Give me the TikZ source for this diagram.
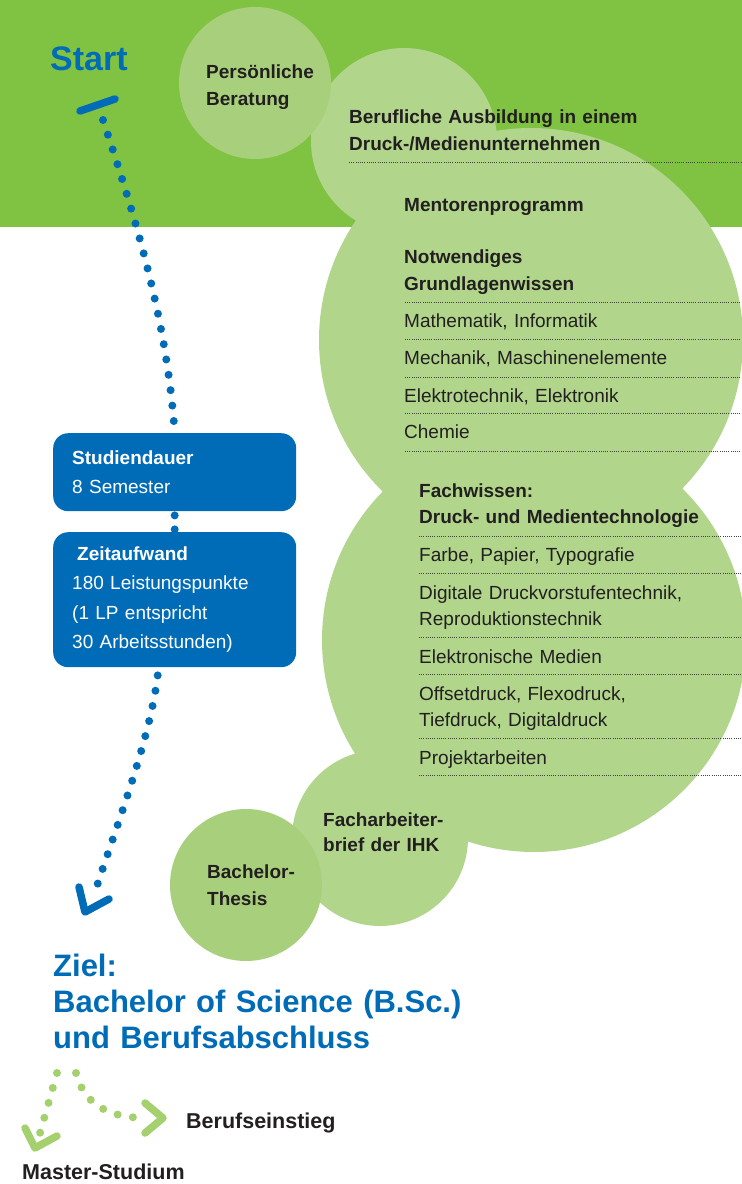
\documentclass[tikz,border=0pt]{standalone}
\usepackage{fontspec}
\setmainfont{Liberation Sans}
\usetikzlibrary{calc,positioning}

\definecolor{bandgruen}{HTML}{80C242}
\definecolor{blasengruen}{HTML}{B1D68B}
\definecolor{kreisgruen}{HTML}{A8D07C}
\definecolor{pfeilgruen}{HTML}{A4D06E}
\definecolor{hsblau}{HTML}{006CB7}
\definecolor{schrift}{HTML}{231F20}

\begin{document}
\begin{tikzpicture}[x=1pt,y=-1pt,
  titel/.style = {anchor=base west, inner sep=0, text=schrift, text width=330pt,
    font=\bfseries\fontsize{19}{27}\selectfont, align=left},
  punkt/.style = {anchor=base west, inner sep=0, text=schrift, text width=330pt,
    font=\fontsize{19}{26}\selectfont, align=left},
  blaubox/.style = {anchor=north west, fill=hsblau, rounded corners=15pt,
    text=white, inner xsep=19pt, text width=205pt, minimum height=78pt,
    font=\fontsize{19}{29.5}\selectfont, align=left},
  trenn/.style = {schrift!85, line width=0.8pt, dash pattern=on 0.8pt off 1.4pt},
  blaupunkte/.style = {hsblau, line width=8pt, line cap=round,
    dash pattern=on 0pt off 15.5pt},
  gruenpunkte/.style = {pfeilgruen, line width=8pt, line cap=round,
    dash pattern=on 0pt off 15.5pt},
  spitze/.style = {line width=7.5pt, line cap=round, line join=round}]

  \useasboundingbox (0,0) rectangle (742,1184);
  \fill[bandgruen] (0,0) rectangle (742,227);

  % Blasen
  \fill[blasengruen] (531,340) circle[radius=212pt] (534,640) circle[radius=212pt]
    (404,141) circle[radius=93pt] (380,838) circle[radius=88pt];
  \fill[kreisgruen] (255,83) circle[radius=76pt] (246,885) circle[radius=76pt];

  % Trennlinien
  \draw[trenn] (349,162) -- (742,162);
  \foreach \y in {302,339,377,413,451}
    \draw[trenn] (405,\y) -- (742,\y);
  \foreach \y in {536,573,637,674,738,775}
    \draw[trenn] (419,\y) -- (742,\y);

  \node[anchor=base west, inner sep=0, text=hsblau,
    font=\bfseries\fontsize{34}{36}\selectfont] (start) at (50,70) {Start};
  \node[titel] (beratung) at (206,78) {Persönliche\\Beratung};
  \node[titel] (ausbildung) at (349,123) {Berufliche Ausbildung in einem\\Druck-/Medienunternehmen};
  \node[titel] (mentoren) at (404,211) {Mentorenprogramm};
  \node[titel] (grundlagen) at (404,263) {Notwendiges\\Grundlagenwissen};
  \node[punkt] (mathe) at (404,327) {Mathematik, Informatik};
  \node[punkt] (mechanik) at (404,364) {Mechanik, Maschinenelemente};
  \node[punkt] (elektro) at (404,402) {Elektrotechnik, Elektronik};
  \node[punkt] (chemie) at (404,438) {Chemie};

  \node[titel, font=\bfseries\fontsize{19}{26}\selectfont] (fachwissen) at (419,497)
    {Fachwissen:\\Druck- und Medientechnologie};
  \node[punkt] (farbe) at (419,561) {Farbe, Papier, Typografie};
  \node[punkt] (vorstufe) at (419,599) {Digitale Druckvorstufentechnik,\\Reproduktionstechnik};
  \node[punkt] (medien) at (419,663) {Elektronische Medien};
  \node[punkt] (druck) at (419,700) {Offsetdruck, Flexodruck,\\Tiefdruck, Digitaldruck};
  \node[punkt] (projekt) at (419,764) {Projektarbeiten};

  \node[titel, font=\bfseries\fontsize{19}{25}\selectfont] (ihk) at (323,826)
    {Facharbeiter-\\brief der IHK};
  \node[titel] (thesis) at (207,878) {Bachelor-\\Thesis};

  \node[titel, text=hsblau, text width=500pt, font=\bfseries\fontsize{31}{36}\selectfont]
    (ziel) at (53,976) {Ziel:\\Bachelor of Science (B.Sc.)\\und Berufsabschluss};

  \node[titel, font=\bfseries\fontsize{21.5}{25}\selectfont] (einstieg) at (186,1128) {Berufseinstieg};
  \node[titel, font=\bfseries\fontsize{21.5}{25}\selectfont] (master) at (22,1179) {Master-Studium};

  % Kaesten
  \node[blaubox] (studiendauer) at (53,433) {\textbf{Studiendauer}\\8 Semester};
  \node[blaubox, minimum height=135pt] (zeitaufwand) at (53,532)
    {\hspace*{5pt}\textbf{Zeitaufwand}\\180 Leistungspunkte\\(1 LP entspricht\\30 Arbeitsstunden)};

  % blauer Weg
  \coordinate (startpunkt) at (103,120);
  \coordinate (zielpfeil) at (85,912);
  \draw[hsblau, spitze] ($(startpunkt)+(-23,-9)$) -- ($(startpunkt)+(12,-21)$);
  \draw[blaupunkte] (startpunkt) .. controls (138,225) and (167,323) .. (studiendauer.north);
  \draw[blaupunkte, dash pattern=on 0pt off 14pt] ($(studiendauer.south)+(0,4)$) -- (zeitaufwand.north);
  \draw[blaupunkte] ($(zeitaufwand.south)+(-17,8)$) .. controls (150,740) and (115,830) .. ($(zielpfeil)+(10,-20)$);
  \draw[hsblau, spitze] ($(zielpfeil)+(-6,-25)$) -- (zielpfeil) -- ($(zielpfeil)+(24,-13)$);

  % gruene Wege
  \coordinate (gabel) at (66,1066);
  \coordinate (masterpfeil) at (35,1148);
  \coordinate (einstiegpfeil) at (163,1118);
  \draw[gruenpunkte] ($(gabel)+(-9,7)$) -- ($(masterpfeil)+(5,-15)$);
  \draw[gruenpunkte] ($(gabel)+(10,7)$) .. controls (84,1105) and (110,1118) .. ($(einstiegpfeil)+(-16,0)$);
  \draw[pfeilgruen, spitze] ($(masterpfeil)+(-10,-20)$) -- (masterpfeil) -- ($(masterpfeil)+(22,-12)$);
  \draw[pfeilgruen, spitze] ($(einstiegpfeil)+(-18,-15)$) -- (einstiegpfeil) -- ($(einstiegpfeil)+(-18,15)$);
\end{tikzpicture}
\end{document}
